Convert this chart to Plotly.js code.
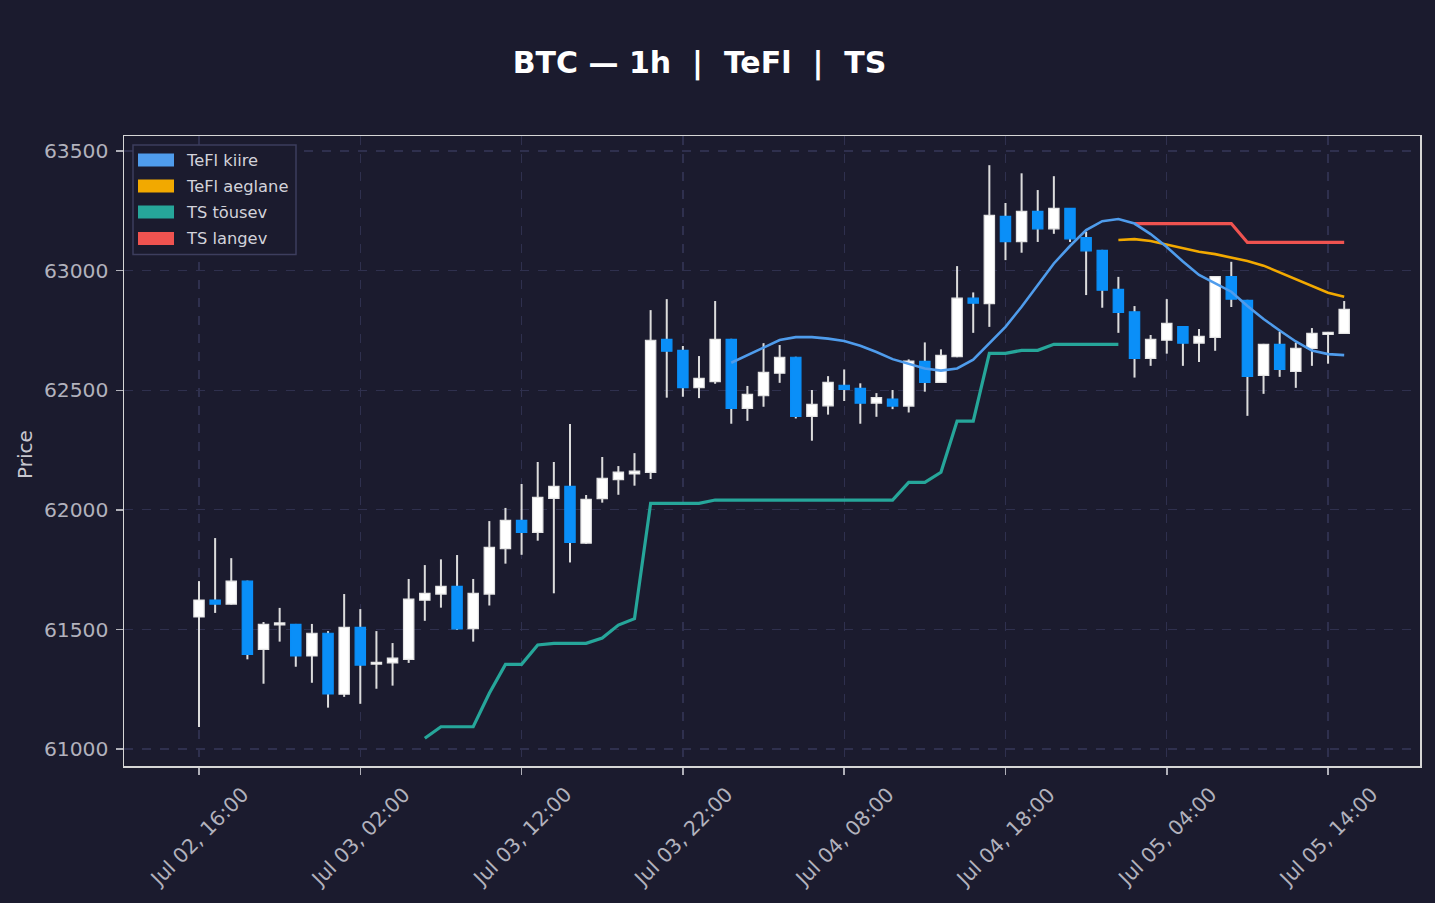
<!DOCTYPE html>
<html>
<head>
<meta charset="utf-8">
<script src="https://cdn.plot.ly/plotly-3.0.1.min.js"></script>
<style>html,body{margin:0;padding:0;background:#1b1b2e;}#chart{width:1435px;height:903px;}</style>
</head>
<body>
<div id="chart"></div>
<script>
var times = [
"2024-07-02 16:00","2024-07-02 17:00","2024-07-02 18:00","2024-07-02 19:00","2024-07-02 20:00","2024-07-02 21:00","2024-07-02 22:00","2024-07-02 23:00",
"2024-07-03 00:00","2024-07-03 01:00","2024-07-03 02:00","2024-07-03 03:00","2024-07-03 04:00","2024-07-03 05:00","2024-07-03 06:00","2024-07-03 07:00",
"2024-07-03 08:00","2024-07-03 09:00","2024-07-03 10:00","2024-07-03 11:00","2024-07-03 12:00","2024-07-03 13:00","2024-07-03 14:00","2024-07-03 15:00",
"2024-07-03 16:00","2024-07-03 17:00","2024-07-03 18:00","2024-07-03 19:00","2024-07-03 20:00","2024-07-03 21:00","2024-07-03 22:00","2024-07-03 23:00",
"2024-07-04 00:00","2024-07-04 01:00","2024-07-04 02:00","2024-07-04 03:00","2024-07-04 04:00","2024-07-04 05:00","2024-07-04 06:00","2024-07-04 07:00",
"2024-07-04 08:00","2024-07-04 09:00","2024-07-04 10:00","2024-07-04 11:00","2024-07-04 12:00","2024-07-04 13:00","2024-07-04 14:00","2024-07-04 15:00",
"2024-07-04 16:00","2024-07-04 17:00","2024-07-04 18:00","2024-07-04 19:00","2024-07-04 20:00","2024-07-04 21:00","2024-07-04 22:00","2024-07-04 23:00",
"2024-07-05 00:00","2024-07-05 01:00","2024-07-05 02:00","2024-07-05 03:00","2024-07-05 04:00","2024-07-05 05:00","2024-07-05 06:00","2024-07-05 07:00",
"2024-07-05 08:00","2024-07-05 09:00","2024-07-05 10:00","2024-07-05 11:00","2024-07-05 12:00","2024-07-05 13:00","2024-07-05 14:00","2024-07-05 15:00"];

var openP = [61552,61623,61606,61702,61417,61519,61521,61389,61484,61229,61509,61355,61360,61375,61622,61648,
61680,61503,61648,61838,61956,61906,62048,62098,61861,62047,62126,62150,62157,62713,62667,62511,
62536,62713,62424,62477,62571,62638,62391,62435,62521,62508,62446,62463,62434,62621,62533,62640,
62885,62862,63227,63121,63248,63175,63260,63138,63085,62922,62828,62633,62709,62766,62697,62721,
62975,62876,62562,62692,62579,62675,62734,62738];
var highP = [61702,61882,61798,61704,61531,61590,61523,61523,61493,61648,61585,61493,61443,61711,61769,61793,
61811,61711,61953,62008,62108,62200,62200,62359,62062,62221,62183,62237,62835,62881,62685,62643,
62873,62715,62518,62697,62689,62640,62501,62559,62587,62529,62488,62501,62629,62700,62671,63019,
62909,63441,63283,63407,63337,63395,63262,63163,63087,62974,62852,62731,62881,62768,62756,62977,
63037,62878,62694,62745,62699,62760,62744,62873];
var lowP = [61092,61569,61604,61375,61273,61449,61344,61277,61173,61218,61189,61252,61265,61360,61536,61591,
61498,61449,61600,61775,61812,61871,61651,61780,61858,62030,62063,62101,62129,62469,62473,62467,
62527,62360,62372,62431,62531,62382,62289,62398,62455,62360,62389,62421,62407,62494,62531,62638,
62740,62765,63044,63075,63120,63154,63120,62898,62845,62740,62553,62602,62653,62602,62618,62665,
62848,62393,62485,62556,62510,62602,62611,62736];
var closeP = [61623,61606,61702,61396,61521,61527,61389,61484,61230,61509,61351,61362,61380,61627,61651,61680,
61502,61651,61843,61956,61906,62052,62098,61864,62044,62132,62158,62162,62709,62663,62511,62550,
62713,62424,62483,62575,62638,62391,62441,62533,62504,62446,62469,62434,62622,62533,62646,62885,
62864,63231,63121,63248,63175,63260,63133,63083,62918,62826,62633,62713,62780,62697,62725,62975,
62881,62558,62692,62587,62675,62738,62742,62838];

var N = null;
var tefKiire = [N,N,N,N,N,N,N,N,N,N,N,N,N,N,N,N,N,N,N,N,N,N,N,N,N,N,N,N,N,N,N,N,N,
62615,62647,62681,62710,62722,62722,62716,62706,62686,62660,62630,62609,62591,62582,62591,62628,
62696,62765,62849,62938,63030,63103,63170,63207,63216,63197,63153,63099,63038,62982,62948,62912,
62852,62798,62750,62704,62666,62651,62647];
var tefAeglane = [N,N,N,N,N,N,N,N,N,N,N,N,N,N,N,N,N,N,N,N,N,N,N,N,N,N,N,N,N,N,N,N,N,N,N,N,N,N,N,N,
N,N,N,N,N,N,N,N,N,N,N,N,N,N,N,N,N,
63128,63132,63124,63109,63094,63079,63069,63056,63040,63021,62992,62963,62934,62908,62891];
var tsTousev = [N,N,N,N,N,N,N,N,N,N,N,N,N,N,
61045,61093,61093,61093,61233,61354,61354,61435,61442,61442,61442,61464,61518,61545,62027,62027,
62027,62027,62041,62041,62041,62041,62041,62041,62041,62041,62041,62041,62041,62041,62115,62115,
62157,62371,62371,62654,62654,62667,62667,62692,62692,62692,62692,62692,
N,N,N,N,N,N,N,N,N,N,N,N,N,N];
var tsLangev = [N,N,N,N,N,N,N,N,N,N,N,N,N,N,N,N,N,N,N,N,N,N,N,N,N,N,N,N,N,N,N,N,N,N,N,N,N,N,N,N,
N,N,N,N,N,N,N,N,N,N,N,N,N,N,N,N,N,N,
63197,63197,63197,63197,63197,63197,63197,63118,63118,63118,63118,63118,63118,63118];

var xTickVals = ["2024-07-02 16:00","2024-07-03 02:00","2024-07-03 12:00","2024-07-03 22:00","2024-07-04 08:00","2024-07-04 18:00","2024-07-05 04:00","2024-07-05 14:00"];
var xTickText = ["Jul 02, 16:00","Jul 03, 02:00","Jul 03, 12:00","Jul 03, 22:00","Jul 04, 08:00","Jul 04, 18:00","Jul 05, 04:00","Jul 05, 14:00"];
var yTickVals = [61000,61500,62000,62500,63000,63500];

var legendNames = ["TeFl kiire","TeFl aeglane","TS tõusev","TS langev"];
var lineColors = ["#4f9cec","#f2a900","#26a69a","#ef5350"];

var UP = "#ffffff", DOWN = "#0a8ff8", WICK = "#dcdcdc";
var HOUR = 3600000;

var bodyBase = [], bodyLen = [], bodyColor = [], bodyEdge = [], wickLen = [];
for (var i = 0; i < times.length; i++) {
  var o = openP[i], c = closeP[i];
  bodyBase.push(Math.min(o, c));
  bodyLen.push(Math.abs(c - o));
  bodyColor.push(c >= o ? UP : DOWN);
  bodyEdge.push(c >= o ? "#e4e4e4" : DOWN);
  wickLen.push(highP[i] - lowP[i]);
}

var traces = [
  {type: "bar", x: times, y: wickLen, base: lowP, width: 0.125 * HOUR,
   marker: {color: WICK, line: {width: 0}}, hoverinfo: "skip", showlegend: false},
  {type: "bar", x: times, y: bodyLen, base: bodyBase, width: 0.64 * HOUR,
   marker: {color: bodyColor, line: {color: bodyEdge, width: 1.2}}, hoverinfo: "skip", showlegend: false},
  {type: "scatter", mode: "lines", x: times, y: tsTousev, line: {color: lineColors[2], width: 3.2}, showlegend: false},
  {type: "scatter", mode: "lines", x: times, y: tsLangev, line: {color: lineColors[3], width: 3.2}, showlegend: false},
  {type: "scatter", mode: "lines", x: times, y: tefAeglane, line: {color: lineColors[1], width: 2.6}, showlegend: false},
  {type: "scatter", mode: "lines", x: times, y: tefKiire, line: {color: lineColors[0], width: 2.6}, showlegend: false}
];

// plot area pixels: x 124..1420, y 136..766
function px(x) { return (x - 124) / 1296; }
function py(y) { return (766 - y) / 630; }

var shapes = [
  {type: "rect", xref: "paper", yref: "paper", x0: px(133), x1: px(296), y0: py(145), y1: py(254.5),
   fillcolor: "#1b1b2e", line: {color: "#3d3e5e", width: 1.5}, layer: "above"}
];
var annotations = [];
var rowY = [160, 186, 212, 238.5];
for (var k = 0; k < legendNames.length; k++) {
  shapes.push({type: "rect", xref: "paper", yref: "paper", x0: px(138), x1: px(174),
    y0: py(rowY[k] + 6.5), y1: py(rowY[k] - 6.5), fillcolor: lineColors[k], line: {width: 0}, layer: "above"});
  annotations.push({xref: "paper", yref: "paper", x: px(184), y: py(rowY[k]), xanchor: "left", yanchor: "middle",
    text: legendNames[k], showarrow: false, font: {family: "DejaVu Sans", size: 16.3, color: "#d2d2da"}});
}
for (var t = 0; t < xTickVals.length; t++) {
  annotations.push({xref: "x", yref: "paper", x: xTickVals[t], y: py(837), xanchor: "center", yanchor: "middle",
    text: xTickText[t], textangle: -45, showarrow: false, font: {family: "DejaVu Sans", size: 20.3, color: "#b2b2bd"}});
}
annotations.push({xref: "paper", yref: "paper", x: px(25), y: py(454), xanchor: "center", yanchor: "middle",
  text: "Price", textangle: -90, showarrow: false, font: {family: "DejaVu Sans", size: 20, color: "#c8c8d0"}});

var layout = {
  width: 1435, height: 903,
  paper_bgcolor: "#1b1b2e", plot_bgcolor: "#1b1b2e",
  margin: {l: 124, r: 15, t: 136, b: 137, pad: 0},
  barmode: "overlay",
  showlegend: false,
  font: {family: "DejaVu Sans", color: "#b2b2bd"},
  title: {text: "BTC — 1h\u00a0\u00a0|\u00a0\u00a0TeFl\u00a0\u00a0|\u00a0\u00a0TS", xref: "container", yref: "container",
    x: 699.5 / 1435, xanchor: "center", y: 1 - 62 / 903, yanchor: "middle",
    font: {family: "DejaVu Sans", size: 30, color: "#ffffff", weight: "bold"}},
  xaxis: {type: "date", range: ["2024-07-02 11:21", "2024-07-05 19:42"], rangeslider: {visible: false},
    tickmode: "array", tickvals: xTickVals, showticklabels: false,
    ticks: "outside", ticklen: 7, tickwidth: 1.5, tickcolor: "#b0b0b8",
    showgrid: true, gridcolor: "#2f304e", griddash: "dash", gridwidth: 1.3,
    showline: true, mirror: true, linecolor: "#d6d6d6", linewidth: 1.5, zeroline: false, fixedrange: true},
  yaxis: {range: [60929, 63563], tickmode: "array", tickvals: yTickVals, tickformat: "d",
    ticks: "outside", ticklen: 7, tickwidth: 1.5, tickcolor: "#b0b0b8", ticklabelstandoff: 3,
    tickfont: {family: "DejaVu Sans", size: 20.3, color: "#b2b2bd"},
    showgrid: true, gridcolor: "#2f304e", griddash: "dash", gridwidth: 1.3,
    showline: true, mirror: true, linecolor: "#d6d6d6", linewidth: 1.5, zeroline: false, fixedrange: true},
  shapes: shapes,
  annotations: annotations
};

Plotly.newPlot("chart", traces, layout, {displayModeBar: false, staticPlot: true});
</script>
</body>
</html>
